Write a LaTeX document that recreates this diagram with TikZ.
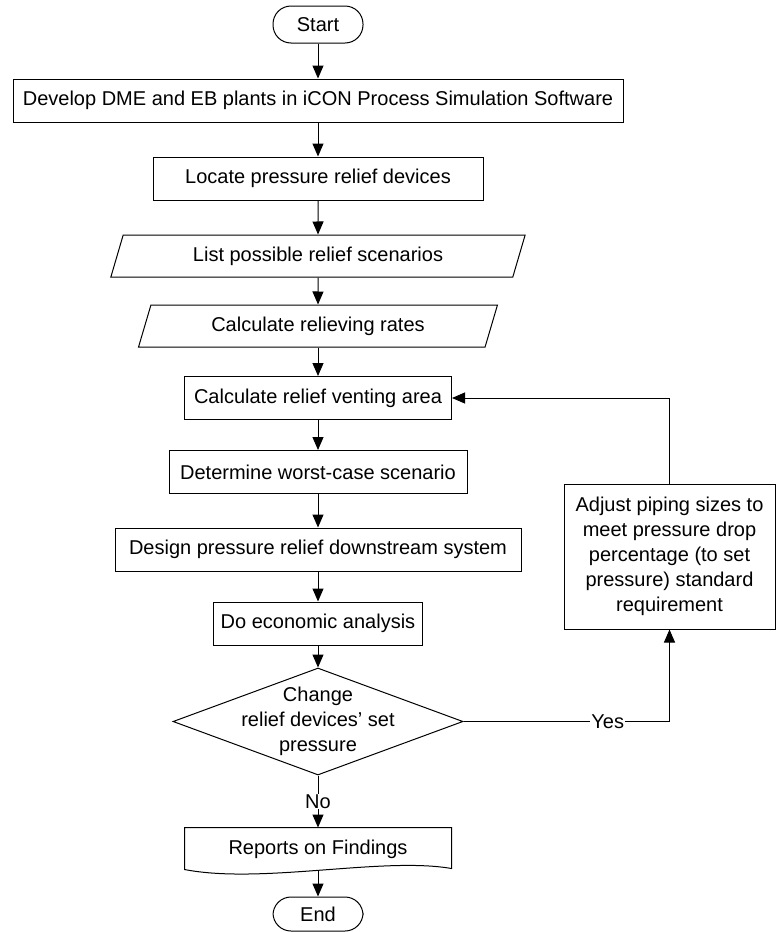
\documentclass[tikz,border=0pt]{standalone}
\usepackage{fontspec}
\setmainfont{Liberation Sans}
\usetikzlibrary{shapes.geometric, arrows.meta}

\begin{document}
\begin{tikzpicture}[x=1pt, y=-1pt, line width=1pt,
  font=\fontsize{20}{25}\selectfont,
  arr/.style={-{Triangle[length=13pt, width=11pt]}},
  term/.style={draw, rounded corners=18pt, minimum width=90, minimum height=37, inner sep=0},
  box/.style={draw, minimum height=43, inner sep=0},
  io/.style={draw, trapezium, trapezium left angle=67, trapezium right angle=113,
             trapezium stretches=true, minimum height=42, inner sep=0},
  decision/.style={draw, diamond, minimum width=290, minimum height=107, inner sep=0},
  doc/.style={minimum width=266, minimum height=42, inner sep=0},
  tag/.style={fill=white, inner sep=1pt}]

\useasboundingbox (0,0) rectangle (776,932);

% draw main column
\node[term] (start) at (318,24.5) {Start};
\node[box, minimum width=610] (develop) at (318,100.5) {Develop DME and EB plants in iCON Process Simulation Software};
\node[box, minimum width=330] (locate) at (318,178.5) {Locate pressure relief devices};
\node[io, minimum width=415] (list) at (318,256) {List possible relief scenarios};
\node[io, minimum width=360] (rates) at (318,326) {Calculate relieving rates};
\node[box, minimum width=267] (vent) at (318,398) {Calculate relief venting area};
\node[box, minimum width=298] (worst) at (318,472) {Determine worst-case scenario};
\node[box, minimum width=406] (design) at (318,549.5) {Design pressure relief downstream system};
\node[box, minimum width=209] (econ) at (318,623.5) {Do economic analysis};
\node[decision, label={[align=center]center:{Change\\relief devices' set\\pressure}}] (change) at (318,721.5) {};
\node[doc] (report) at (318,849) {Reports on Findings};
\node[term, minimum height=34] (end) at (318,914) {End};

% draw side box
\node[box, minimum width=211, minimum height=145, align=center] (adjust) at (669.5,556.5)
  {Adjust piping sizes to\\meet pressure drop\\percentage (to set\\pressure) standard\\requirement};

% draw document outline
\draw (report.north west) -- (report.north east) -- ([yshift=2]report.south east)
  .. controls ([xshift=-69, yshift=14]report.south east) and ([xshift=77, yshift=-14]report.south west)
  .. ([yshift=1]report.south west) -- cycle;

% draw arrows
\draw[arr] (start) -- (develop);
\draw[arr] (develop) -- (locate);
\draw[arr] (locate) -- (list);
\draw[arr] (list) -- (rates);
\draw[arr] (rates) -- (vent);
\draw[arr] (vent) -- (worst);
\draw[arr] (worst) -- (design);
\draw[arr] (design) -- (econ);
\draw[arr] (econ) -- (change);
\draw[arr] (change) -- node[tag] {No} (report);
\draw[arr] (report) -- (end);

% draw loop back
\draw[arr] (change.east) -| node[tag, pos=0.35] {Yes} (adjust.south);
\draw[arr] (adjust.north) |- (vent.east);

\end{tikzpicture}
\end{document}
